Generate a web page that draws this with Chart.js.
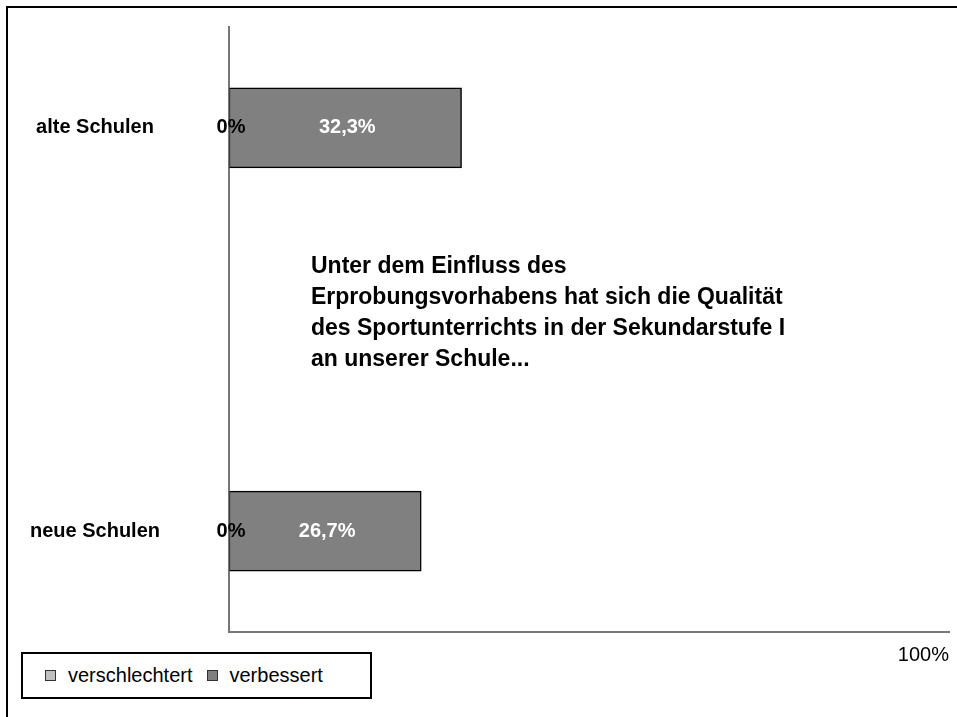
<!DOCTYPE html>
<html lang="de">
<head>
<meta charset="utf-8">
<title>Qualität des Sportunterrichts</title>
<script src="https://cdn.jsdelivr.net/npm/chart.js@4/dist/chart.umd.min.js"></script>
<style>
  html, body { margin: 0; padding: 0; background: #fff; }
  body { width: 957px; height: 717px; position: relative; overflow: hidden; font-family: "Liberation Sans", Arial, sans-serif; }
  #rahmen { position: absolute; left: 6px; top: 6px; width: 1000px; height: 1000px; border-left: 2px solid #000; border-top: 2px solid #000; }
  #wrap { position: absolute; left: 0; top: 0; width: 957px; height: 717px; }
  #legende { position: absolute; left: 21px; top: 652px; width: 351px; height: 47px; border: 2px solid #000; background: #fff;
             display: flex; align-items: center; padding-left: 22px; box-sizing: border-box; font-size: 20px; color: #000; }
  #legende .item { display: flex; align-items: center; margin-right: 14px; }
  #legende .box { width: 9px; height: 9px; border: 1px solid #333; margin-right: 12px; }
</style>
</head>
<body>
<div id="rahmen"></div>
<div id="wrap"><canvas id="grafico"></canvas></div>
<div id="legende"></div>

<script>
const kategorien = ["alte Schulen", "neue Schulen"];
const serien = ["verschlechtert", "verbessert"];
const verschlechtert = [0, 0];
const verbessert = [32.3, 26.7];
const frageText = [
  "Unter dem Einfluss des",
  "Erprobungsvorhabens hat sich die Qualität",
  "des Sportunterrichts in der Sekundarstufe I",
  "an unserer Schule..."
];
const achsenMax = 100;

const farben = ["#c0c0c0", "#808080"];
const labelFarben = ["#000", "#fff"];
const schrift = '"Liberation Sans", Arial, sans-serif';

function formatProzent(v) {
  return String(v).replace('.', ',') + '%';
}

// Beschriftungen: Kategorien, Werte, Achsenende und Fragetext
const beschriftung = {
  id: 'beschriftung',
  afterDatasetsDraw(chart) {
    const ctx = chart.ctx;
    const y = chart.scales.y;
    const x = chart.scales.x;
    ctx.save();
    ctx.textBaseline = 'middle';

    ctx.font = 'bold 20px ' + schrift;
    ctx.fillStyle = '#000';
    ctx.textAlign = 'center';
    kategorien.forEach((k, i) => {
      ctx.fillText(k, 95, y.getPixelForValue(i));
    });

    chart.data.datasets.forEach((ds, d) => {
      const meta = chart.getDatasetMeta(d);
      meta.data.forEach((bar, i) => {
        const cx = (bar.x + bar.base) / 2;
        ctx.fillStyle = labelFarben[d];
        ctx.textAlign = 'center';
        ctx.fillText(formatProzent(ds.data[i].x), cx + 2, bar.y);
      });
    });

    ctx.font = '20px ' + schrift;
    ctx.fillStyle = '#000';
    ctx.textAlign = 'right';
    ctx.fillText(achsenMax + '%', x.getPixelForValue(achsenMax), x.bottom + 23);

    ctx.font = 'bold 23px ' + schrift;
    ctx.textAlign = 'left';
    frageText.forEach((zeile, i) => {
      ctx.fillText(zeile, 311, 267 + i * 31);
    });
    ctx.restore();
  }
};

const ctx = document.getElementById('grafico').getContext('2d');
const datensaetze = [verschlechtert, verbessert].map((werte, d) => ({
  label: serien[d],
  data: werte.map((v, i) => ({ x: v, y: i })),
  backgroundColor: farben[d],
  borderColor: '#000',
  borderWidth: d === 0 ? 0 : 1.5,
  borderSkipped: false,
  barThickness: 80
}));

new Chart(ctx, {
  type: 'bar',
  data: { datasets: datensaetze },
  options: {
    indexAxis: 'y',
    responsive: true,
    maintainAspectRatio: false,
    animation: false,
    layout: { padding: { left: 229, top: 27, right: 8, bottom: 85 } },
    plugins: { legend: { display: false }, tooltip: { enabled: false } },
    scales: {
      x: {
        type: 'linear', min: 0, max: achsenMax, stacked: true,
        ticks: { display: false }, grid: { display: false },
        border: { color: '#777', width: 2 },
        afterFit: s => { s.height = 0; }
      },
      y: {
        type: 'linear', min: -0.25, max: 1.25, reverse: true, stacked: true, offset: false,
        ticks: { display: false }, grid: { display: false, offset: false },
        border: { color: '#777', width: 2 },
        afterFit: s => { s.width = 0; }
      }
    }
  },
  plugins: [beschriftung]
});

const legende = document.getElementById('legende');
serien.forEach((s, d) => {
  const item = document.createElement('span');
  item.className = 'item';
  const box = document.createElement('span');
  box.className = 'box';
  box.style.background = farben[d];
  const txt = document.createElement('span');
  txt.innerText = s;
  item.append(box, txt);
  legende.append(item);
});
</script>
</body>
</html>
